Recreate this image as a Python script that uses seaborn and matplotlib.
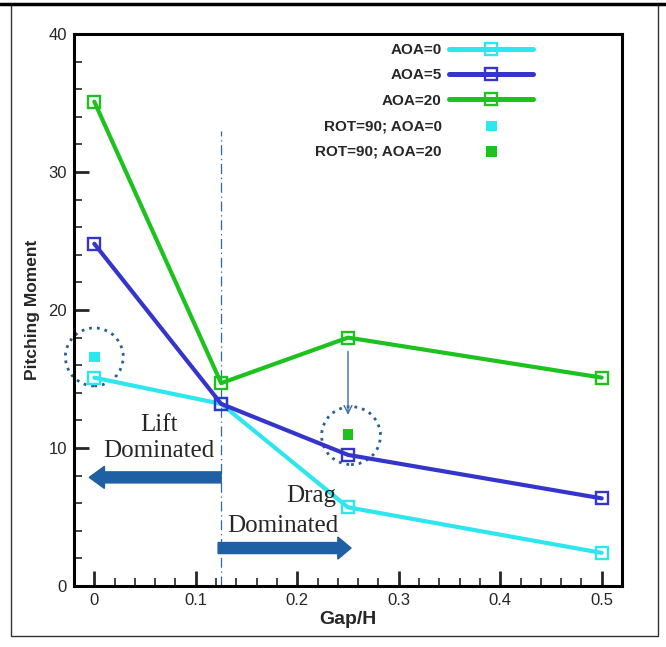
import matplotlib
matplotlib.use("Agg")
import matplotlib.pyplot as plt
from matplotlib.patches import Ellipse, FancyArrow, Rectangle
from matplotlib.lines import Line2D
import seaborn as sns
import pandas as pd

sns.set_style("white")
plt.rcParams["font.family"] = ["Liberation Sans", "DejaVu Sans"]

# Data
gap = [0.0, 0.125, 0.25, 0.5]
aoa0 = [15.1, 13.2, 5.7, 2.4]
aoa5 = [24.8, 13.2, 9.5, 6.35]
aoa20 = [35.1, 14.7, 18.0, 15.1]
rot_aoa0_x, rot_aoa0_y = [0.0], [16.6]
rot_aoa20_x, rot_aoa20_y = [0.25], [11.0]

series_names = ["AOA=0", "AOA=5", "AOA=20"]
rot_names = ["ROT=90; AOA=0", "ROT=90; AOA=20"]
colors = {"AOA=0": "#2de6ee", "AOA=5": "#3535cc", "AOA=20": "#1ec21e"}

df = pd.DataFrame({
    "gap": gap * 3,
    "moment": aoa0 + aoa5 + aoa20,
    "case": [n for n in series_names for _ in gap],
})

fig = plt.figure(figsize=(6.66, 6.47), dpi=100)
ax = fig.add_axes([74 / 666, 1 - 586 / 647, (622 - 74) / 666, (586 - 34) / 647])

# outer frame around the figure
fig.add_artist(Rectangle((11 / 666, 1 - 636 / 647), (658 - 11) / 666, (636 - 4) / 647,
                         transform=fig.transFigure, fill=False, lw=1.0, ec="#333333"))
fig.add_artist(Line2D([0, 1], [1 - 4 / 647, 1 - 4 / 647], transform=fig.transFigure,
                      color="black", lw=2.5))

for name in series_names:
    sub = df[df["case"] == name]
    sns.lineplot(data=sub, x="gap", y="moment", ax=ax, color=colors[name], lw=3.0,
                 marker="s", markersize=8.5, markerfacecolor="none",
                 markeredgecolor=colors[name], markeredgewidth=1.7, label=name,
                 zorder=3)

sns.scatterplot(x=rot_aoa0_x, y=rot_aoa0_y, ax=ax, marker="s", s=60,
                color=colors["AOA=0"], edgecolor="none", label=rot_names[0], zorder=4)
sns.scatterplot(x=rot_aoa20_x, y=rot_aoa20_y, ax=ax, marker="s", s=60,
                color=colors["AOA=20"], edgecolor="none", label=rot_names[1], zorder=4)

# regime boundary
ax.plot([0.125, 0.125], [0, 33.0], color="#2f6a9c", lw=0.9, ls=(0, (8, 3, 1, 3)), zorder=2)

# regime arrows
arrow_col = "#1f5fa3"
ax.add_patch(FancyArrow(0.125, 7.87, -0.130, 0, width=0.8, head_width=1.6,
                        head_length=0.015, length_includes_head=True,
                        color=arrow_col, zorder=2))
ax.add_patch(FancyArrow(0.122, 2.75, 0.131, 0, width=0.8, head_width=1.6,
                        head_length=0.013, length_includes_head=True,
                        color=arrow_col, zorder=2))

serif = ["Liberation Serif", "DejaVu Serif"]
ax.text(0.064, 11.7, "Lift", family=serif, fontsize=18, ha="center", va="center")
ax.text(0.064, 9.75, "Dominated", family=serif, fontsize=18, ha="center", va="center")
ax.text(0.214, 6.5, "Drag", family=serif, fontsize=18, ha="center", va="center")
ax.text(0.186, 4.35, "Dominated", family=serif, fontsize=18, ha="center", va="center")

# dotted highlight circles
circ_col = "#2a5f8f"
ax.add_patch(Ellipse((0.0, 16.6), 0.057, 4.2, fill=False, ec=circ_col, lw=2.0,
                     ls=(0, (1, 1.8)), zorder=2, clip_on=False))
ax.add_patch(Ellipse((0.253, 10.9), 0.058, 4.2, fill=False, ec=circ_col, lw=2.0,
                     ls=(0, (1, 1.8)), zorder=2))

# small arrow from AOA=20 point to rotated case
ax.annotate("", xy=(0.25, 12.2), xytext=(0.25, 17.2),
            arrowprops=dict(arrowstyle="->", color="#3d6f9e", lw=1.0,
                            mutation_scale=14), zorder=2)

ax.set_xlim(-0.02, 0.52)
ax.set_ylim(0, 40)
ax.set_xticks([0, 0.1, 0.2, 0.3, 0.4, 0.5])
ax.set_xticklabels(["0", "0.1", "0.2", "0.3", "0.4", "0.5"])
ax.set_yticks([0, 10, 20, 30, 40])
ax.set_xticks([i * 0.02 for i in range(-1, 27)], minor=True)
ax.set_yticks(range(0, 41, 2), minor=True)
ax.tick_params(axis="both", which="major", direction="in", length=11, width=2,
               labelsize=12, top=False, right=False, bottom=True, left=True, pad=5)
ax.tick_params(axis="both", which="minor", direction="in", length=6, width=1.2,
               top=False, right=False, bottom=True, left=True)
for s in ax.spines.values():
    s.set_linewidth(2.2)
    s.set_color("black")

ax.set_xlabel("Gap/H", fontsize=14, fontweight="bold", labelpad=2)
ax.set_ylabel("Pitching Moment", fontsize=12.5, fontweight="bold", labelpad=6)

leg = ax.legend(loc="upper right", bbox_to_anchor=(0.855, 1.0), frameon=False,
                markerfirst=False, handlelength=5.5, handletextpad=0.5,
                labelspacing=0.74, borderaxespad=0.2,
                prop={"family": ["Liberation Sans", "DejaVu Sans"], "weight": "bold", "size": 11})
for h in leg.get_lines():
    h.set_linewidth(3.6)

fig.savefig("out.png", dpi=100)
